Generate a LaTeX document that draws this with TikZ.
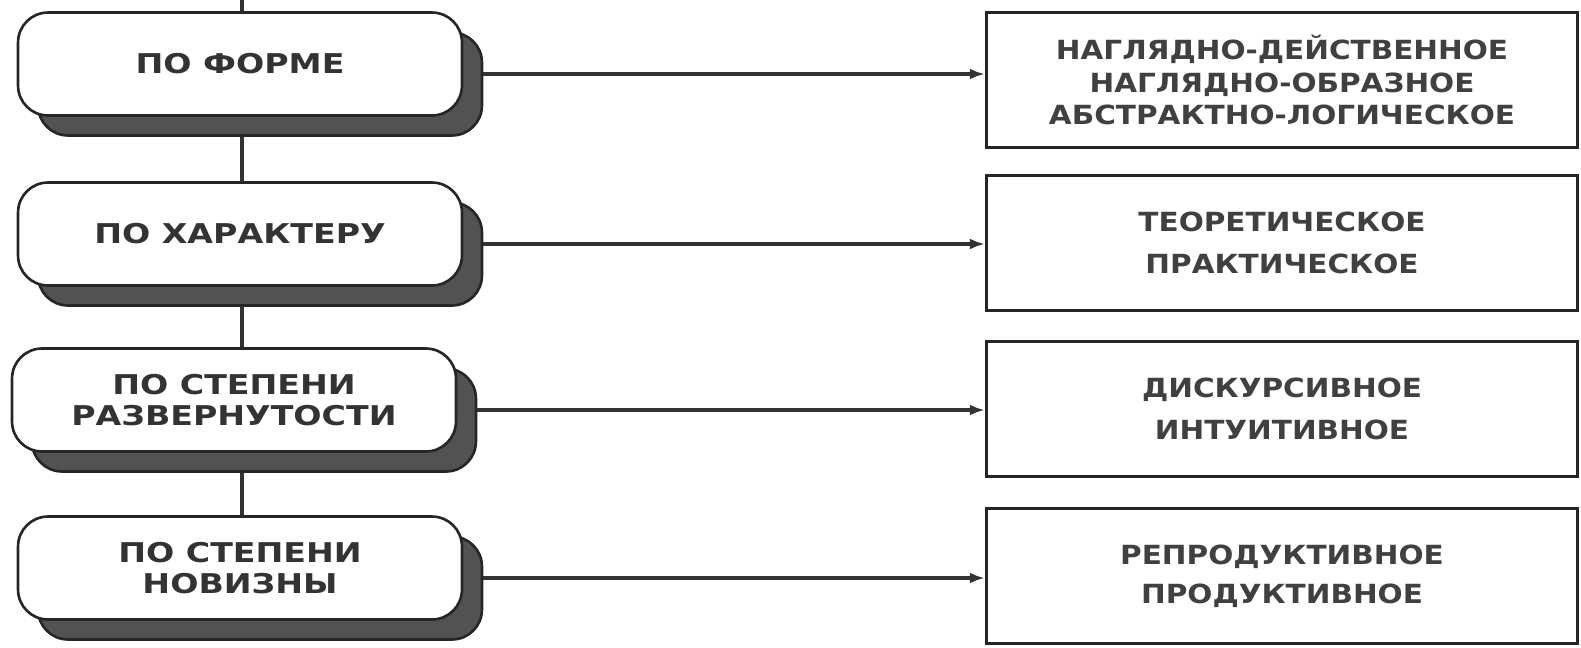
\documentclass[tikz,border=0pt]{standalone}
\usepackage{fontspec}
\setmainfont{DejaVu Sans}
\newfontfamily\lfont{DejaVu Sans}[FakeStretch=1.22]
\newfontfamily\rfont{DejaVu Sans}[FakeStretch=1.12]
\usetikzlibrary{shadows,arrows.meta,calc}
\begin{document}
\begin{tikzpicture}[x=0.02cm,y=-0.02cm,
  lbox/.style={draw=black!85, line width=1.5pt, fill=white, rounded corners=0.6cm,
    minimum width=8.88cm, minimum height=2.06cm, align=center,
    font=\lfont\bfseries\fontsize{15.5}{17.6}\selectfont, text=black!80,
    drop shadow={shadow xshift=0.4cm, shadow yshift=-0.4cm, fill=black!68, draw=black!85, opacity=1}},
  rbox/.style={draw=black!85, line width=2pt, fill=white,
    minimum width=11.82cm, minimum height=2.7cm, align=center,
    font=\rfont\bfseries\fontsize{15}{18.7}\selectfont, text=black!75},
  conn/.style={draw=black!80, line width=2pt},
  arr/.style={conn, -{Latex[length=0.3cm,width=0.22cm]}}]
\useasboundingbox (0,0) rectangle (1581,647);
\node[rbox] (r1) at (1282,80) {НАГЛЯДНО-ДЕЙСТВЕННОЕ\\НАГЛЯДНО-ОБРАЗНОЕ\\АБСТРАКТНО-ЛОГИЧЕСКОЕ};
\node[rbox, font=\rfont\bfseries\fontsize{15}{24}\selectfont] (r2) at (1282,243) {ТЕОРЕТИЧЕСКОЕ\\ПРАКТИЧЕСКОЕ};
\node[rbox, font=\rfont\bfseries\fontsize{15}{24}\selectfont] (r3) at (1282,409) {ДИСКУРСИВНОЕ\\ИНТУИТИВНОЕ};
\node[rbox, font=\rfont\bfseries\fontsize{15}{22}\selectfont] (r4) at (1282,576) {РЕПРОДУКТИВНОЕ\\ПРОДУКТИВНОЕ};

\coordinate (top) at (242,0);
\draw[conn] (top) -- (242,40);
\draw[conn] (242,100) -- (242,200);
\draw[conn] (242,270) -- (242,365);
\draw[conn] (242,440) -- (242,530);

\node[lbox] (b1) at (240,64) {ПО ФОРМЕ};
\node[lbox] (b2) at (240,234) {ПО ХАРАКТЕРУ};
\node[lbox] (b3) at (234,400) {ПО СТЕПЕНИ\\РАЗВЕРНУТОСТИ};
\node[lbox] (b4) at (240,568) {ПО СТЕПЕНИ\\НОВИЗНЫ};

\foreach \i in {1,2,3,4}{
  \coordinate (s\i) at ($(b\i.east)+(20,10)$);
  \draw[arr] (s\i) -- (s\i -| r\i.west);
}
\end{tikzpicture}
\end{document}
